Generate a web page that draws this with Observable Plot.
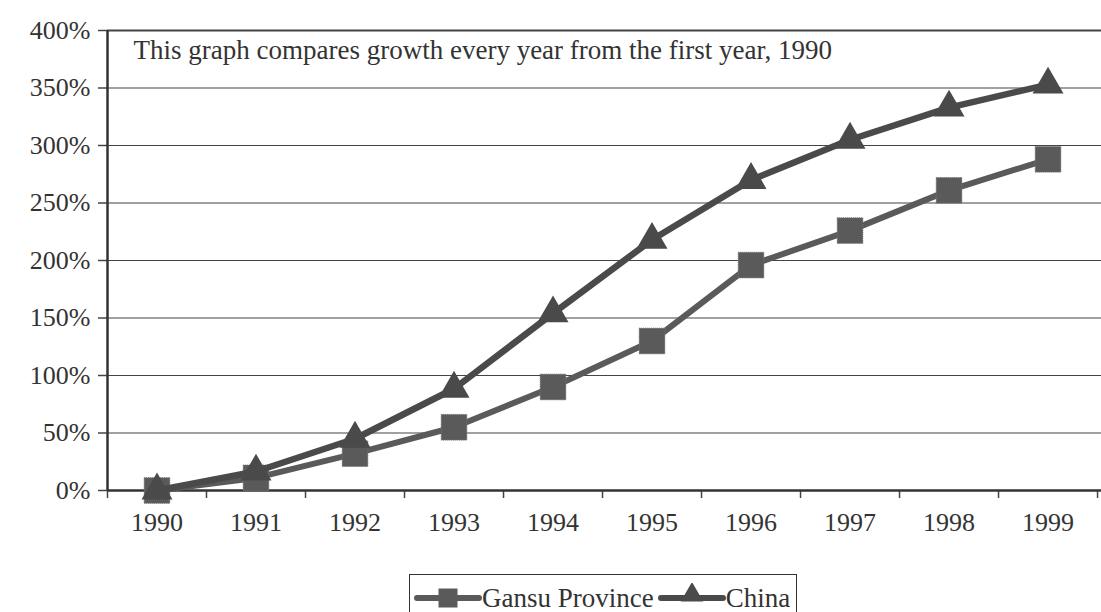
<!DOCTYPE html>
<html>
<head>
<meta charset="utf-8">
<script src="https://cdn.jsdelivr.net/npm/d3@7"></script>
<script src="https://cdn.jsdelivr.net/npm/@observablehq/plot@0.6"></script>
<style>
  body { margin: 0; background: #fff; font-family: 'Liberation Serif', 'Times New Roman', serif; overflow: hidden; }
  #chart svg { display: block; }
  #chart svg text { font-family: 'Liberation Serif', 'Times New Roman', serif; }
  .legend { position: absolute; left: 409px; top: 574px; height: 44px; border: 1px solid #333; box-sizing: border-box; display: flex; align-items: center; padding: 4px 6px 0 4px; font-size: 27px; color: #333; background: #fff; white-space: nowrap; }
  .legend .item { display: flex; align-items: center; flex: none; }
  .legend .item + .item { margin-left: 4px; }
  .legend svg { display: block; }
</style>
</head>
<body>
<div id="chart"></div>
<div class="legend" id="legend"></div>
<script>
const years = [1990, 1991, 1992, 1993, 1994, 1995, 1996, 1997, 1998, 1999];
const gansu = [0, 0.11, 0.32, 0.55, 0.90, 1.30, 1.96, 2.26, 2.61, 2.88];
const china = [0, 0.165, 0.45, 0.885, 1.54, 2.18, 2.70, 3.05, 3.33, 3.53];
const seriesNames = ["Gansu Province", "China"];
const yTicks = [0, 0.5, 1, 1.5, 2, 2.5, 3, 3.5, 4];
const note = "This graph compares growth every year from the first year, 1990";

const gansuData = years.map((y, i) => ({year: y, value: gansu[i]}));
const chinaData = years.map((y, i) => ({year: y, value: china[i]}));
const bounds = d3.range(years[0] - 0.5, years[years.length - 1] + 1, 1);

const gansuColor = "#5a5a5a";
const chinaColor = "#4a4a4a";
const serif = "'Liberation Serif', 'Times New Roman', serif";

const chart = Plot.plot({
  width: 1101,
  height: 562,
  marginLeft: 107,
  marginRight: 0,
  marginTop: 30,
  marginBottom: 72,
  style: {fontFamily: serif, background: "#fff", color: "#333"},
  x: {type: "linear", domain: [bounds[0], bounds[bounds.length - 1] + 0.04], axis: null, label: null},
  y: {domain: [0, 4], axis: null, label: null},
  marks: [
    Plot.ruleY(yTicks.slice(1, -1), {stroke: "#444", strokeWidth: 1.2}),
    Plot.ruleY([4], {stroke: "#444", strokeWidth: 2}),
    Plot.axisY({ticks: yTicks, label: null, tickSize: 9, tickPadding: 8, fontSize: 26, fontFamily: serif, tickFormat: d => Math.round(d * 100) + "%", stroke: "#444", strokeWidth: 1.5}),
    Plot.axisX({ticks: bounds, label: null, tickSize: 8, tickFormat: () => "", stroke: "#444", strokeWidth: 1.5}),
    Plot.axisX({ticks: years, label: null, tickSize: 0, tickPadding: 22, fontSize: 26, fontFamily: serif, tickFormat: d => String(d)}),
    Plot.ruleY([0], {stroke: "#333", strokeWidth: 2.5}),
    Plot.ruleX([bounds[0]], {stroke: "#333", strokeWidth: 2.5}),
    Plot.text([note], {frameAnchor: "top-left", dx: 26, dy: 20, text: d => d, textAnchor: "start", lineAnchor: "middle", fontSize: 27, fontFamily: serif, fill: "#333"}),
    Plot.line(gansuData, {x: "year", y: "value", stroke: gansuColor, strokeWidth: 6}),
    Plot.dot(gansuData, {x: "year", y: "value", symbol: "square", r: 14.5, fill: gansuColor, stroke: "#777", strokeWidth: 1, strokeDasharray: "1,1"}),
    Plot.line(chinaData, {x: "year", y: "value", stroke: chinaColor, strokeWidth: 6.5}),
    Plot.dot(chinaData, {x: "year", y: "value", symbol: "triangle", r: 11.5, fill: chinaColor})
  ]
});
document.getElementById("chart").appendChild(chart);

// Legend
const legend = d3.select("#legend");
const syms = [d3.symbolSquare, d3.symbolTriangle];
const cols = [gansuColor, chinaColor];
const sizes = [19 * 19, 220];
seriesNames.forEach((name, i) => {
  const item = legend.append("div").attr("class", "item");
  const s = item.append("svg").attr("width", 68).attr("height", 30);
  s.append("line").attr("x1", 3).attr("x2", 65).attr("y1", 15).attr("y2", 15)
    .attr("stroke", cols[i]).attr("stroke-width", 6).attr("stroke-linecap", "round");
  s.append("path").attr("transform", i === 0 ? "translate(34,15)" : "translate(34,12)")
    .attr("d", d3.symbol(syms[i], sizes[i])()).attr("fill", cols[i]);
  item.append("span").text(name);
});
</script>
</body>
</html>
